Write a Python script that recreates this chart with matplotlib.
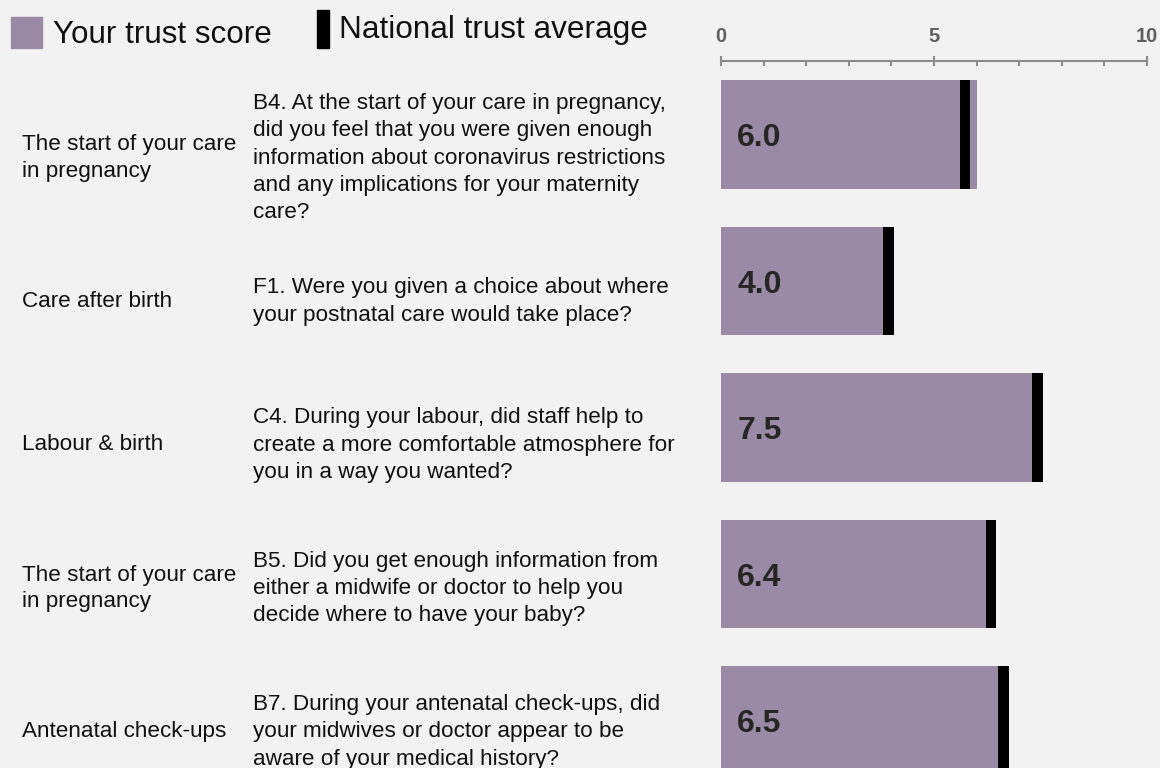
import matplotlib
matplotlib.use("Agg")
import matplotlib.pyplot as plt
from matplotlib.patches import Rectangle

# data
categories = [
    "The start of your care\nin pregnancy",
    "Care after birth",
    "Labour & birth",
    "The start of your care\nin pregnancy",
    "Antenatal check-ups",
]
questions = [
    "B4. At the start of your care in pregnancy,\ndid you feel that you were given enough\n"
    "information about coronavirus restrictions\nand any implications for your maternity\ncare?",
    "F1. Were you given a choice about where\nyour postnatal care would take place?",
    "C4. During your labour, did staff help to\ncreate a more comfortable atmosphere for\n"
    "you in a way you wanted?",
    "B5. Did you get enough information from\neither a midwife or doctor to help you\n"
    "decide where to have your baby?",
    "B7. During your antenatal check-ups, did\nyour midwives or doctor appear to be\n"
    "aware of your medical history?",
]
trust_score = [6.0, 4.0, 7.5, 6.4, 6.5]
national_avg = [5.73, 3.93, 7.43, 6.34, 6.63]
major_ticks = [0, 5, 10]
minor_ticks = [1, 2, 3, 4, 6, 7, 8, 9]

W, H = 1160, 768
BG = "#f2f2f2"
PURPLE = "#9b8aa6"
AXIS_GREY = "#8c8c8c"


def fx(px):
    return px / W


def fy(px):
    return 1 - px / H


def main():
    plt.rcParams["font.family"] = ["Liberation Sans", "DejaVu Sans"]
    fig = plt.figure(figsize=(W / 100, H / 100), dpi=100, facecolor=BG)

    # bar panel: x 0..10 spans 721..1147 px, top spine at 61 px
    top_px, bar_c0, bar_step, bar_h = 60.7, 134.35, 146.5, 108.6
    ax = fig.add_axes([fx(721.3), 0, fx(1146.7) - fx(721.3), 1 - 60.7 / H])
    ax.set_facecolor("none")
    ypos = list(range(len(trust_score)))
    ax.barh(ypos, trust_score, height=bar_h / bar_step, color=PURPLE, zorder=2)
    ax.barh(ypos, [0.25] * len(national_avg), left=[v - 0.125 for v in national_avg],
            height=bar_h / bar_step, color="black", zorder=3)
    for y, v in zip(ypos, trust_score):
        ax.text(0.376, y + 0.028, f"{v:.1f}", ha="left", va="center", fontsize=23,
                fontweight="bold", color="#262626", zorder=4)

    ax.set_xlim(0, 10)
    ax.set_ylim((H - bar_c0) / bar_step, (top_px - bar_c0) / bar_step)
    for s in ["left", "right", "bottom"]:
        ax.spines[s].set_visible(False)
    ax.spines["top"].set_color(AXIS_GREY)
    ax.spines["top"].set_linewidth(1.5)
    ax.xaxis.tick_top()
    ax.set_xticks(major_ticks)
    ax.set_xticks(minor_ticks, minor=True)
    ax.set_xticklabels([str(t) for t in major_ticks], fontsize=14.5, fontweight="bold",
                       color="#5f5f5f")
    ax.tick_params(axis="x", which="major", direction="inout", length=7, width=1.5,
                   color=AXIS_GREY, pad=7)
    ax.tick_params(axis="x", which="minor", direction="in", length=3.6, width=1.5,
                   color=AXIS_GREY)
    ax.set_yticks([])

    # row texts
    row_c0, row_step = 158, 143.5
    for i, (cat, q) in enumerate(zip(categories, questions)):
        yc = fy(row_c0 + row_step * i)
        fig.text(fx(22), yc, cat, ha="left", va="center", fontsize=16.2,
                 color="#111111", linespacing=1.36)
        fig.text(fx(253), yc, q, ha="left", va="center", fontsize=16.2,
                 color="#111111", linespacing=1.4)

    # legend
    fig.patches.append(Rectangle((fx(11), fy(47.7)), fx(31), 31 / H, color=PURPLE,
                                 transform=fig.transFigure, figure=fig))
    fig.patches.append(Rectangle((fx(316.7), fy(47.7)), fx(12.6), 37.7 / H, color="black",
                                 transform=fig.transFigure, figure=fig))
    fig.text(fx(53.3), fy(43.3), "Your trust score", ha="left", va="baseline",
             fontsize=22.6, color="#111111")
    fig.text(fx(339), fy(37.7), "National trust average", ha="left", va="baseline",
             fontsize=22.7, color="#111111")

    fig.savefig("out.png", dpi=100, facecolor=BG)


if __name__ == "__main__":
    main()
